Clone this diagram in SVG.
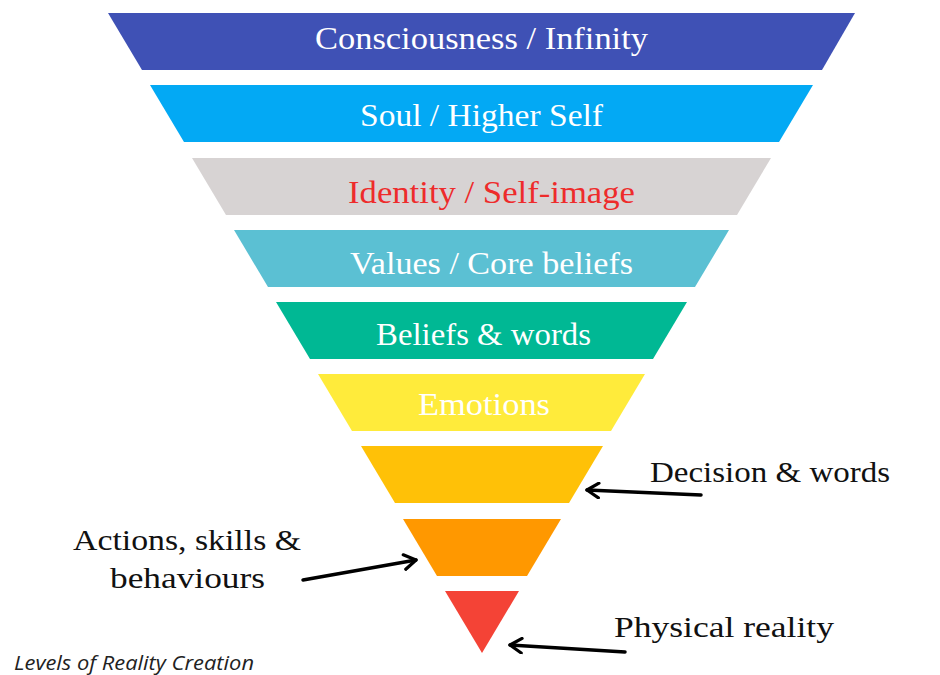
<svg xmlns="http://www.w3.org/2000/svg" width="940" height="675" viewBox="0 0 940 675">
<defs>
<style>
.lvl{font-family:"Liberation Serif","DejaVu Serif",serif;font-size:31px;fill:#fff;text-anchor:middle}
.lab{font-family:"Liberation Serif","DejaVu Serif",serif;font-size:30px;fill:#111}
.cap{font-family:"Open Sans","Noto Sans",sans-serif;font-style:italic;font-size:20px;fill:#222}
.arr{fill:none;stroke:#000;stroke-width:3.5;stroke-linecap:round;marker-end:url(#head)}
</style>
<marker id="head" viewBox="0 0 12 12" refX="10" refY="6" markerWidth="5" markerHeight="5" orient="auto" markerUnits="strokeWidth">
<path d="M2,1 L10,6 L2,11" fill="none" stroke="#000" stroke-width="2.2" stroke-linecap="round" stroke-linejoin="round"/>
</marker>
</defs>
<rect width="940" height="675" fill="#fff"/>
<g id="consciousness"><polygon points="108,13 855,13 822,70 142,70" fill="#3F51B5"/><text class="lvl" x="481.5" y="49" textLength="333" lengthAdjust="spacingAndGlyphs">Consciousness / Infinity</text></g>
<g id="soul"><polygon points="150,85 813,85 779,142 184,142" fill="#03A9F4"/><text class="lvl" x="481.5" y="126" textLength="243" lengthAdjust="spacingAndGlyphs">Soul / Higher Self</text></g>
<g id="identity"><polygon points="192,158 771,158 737,215 226,215" fill="#D7D3D3"/><text class="lvl" x="491.5" y="203" textLength="287" lengthAdjust="spacingAndGlyphs" style="fill:#EE2B2B">Identity / Self-image</text></g>
<g id="values"><polygon points="234,230 729,230 695,287 268,287" fill="#5BC0D3"/><text class="lvl" x="491.5" y="274" textLength="283" lengthAdjust="spacingAndGlyphs">Values / Core beliefs</text></g>
<g id="beliefs"><polygon points="276,302 687,302 653,359 310,359" fill="#00B894"/><text class="lvl" x="483.5" y="345" textLength="215" lengthAdjust="spacingAndGlyphs">Beliefs &amp; words</text></g>
<g id="emotions"><polygon points="318,374 645,374 611,431 352,431" fill="#FFEB3B"/><text class="lvl" x="484" y="415" textLength="132" lengthAdjust="spacingAndGlyphs">Emotions</text></g>
<g id="decision"><polygon points="361,446 603,446 569,503 395,503" fill="#FFC107"/><text class="lab" x="650" y="482" textLength="240" lengthAdjust="spacingAndGlyphs">Decision &amp; words</text></g>
<g id="actions"><polygon points="403,519 561,519 527,576 437,576" fill="#FF9800"/><text class="lab" x="73" y="550" textLength="228" lengthAdjust="spacingAndGlyphs">Actions, skills &amp;</text><text class="lab" x="110" y="588" textLength="155" lengthAdjust="spacingAndGlyphs">behaviours</text></g>
<g id="physical"><polygon points="445,591 519,591 482,653" fill="#F44336"/><text class="lab" x="614" y="637" textLength="220" lengthAdjust="spacingAndGlyphs">Physical reality</text></g>
<g id="connectors">
<line class="arr" x1="701" y1="495" x2="587" y2="490"/>
<line class="arr" x1="303" y1="580" x2="416" y2="560"/>
<line class="arr" x1="625" y1="652" x2="510" y2="645"/>
</g>
<text class="cap" x="14" y="670" textLength="240" lengthAdjust="spacingAndGlyphs">Levels of Reality Creation</text>
</svg>
